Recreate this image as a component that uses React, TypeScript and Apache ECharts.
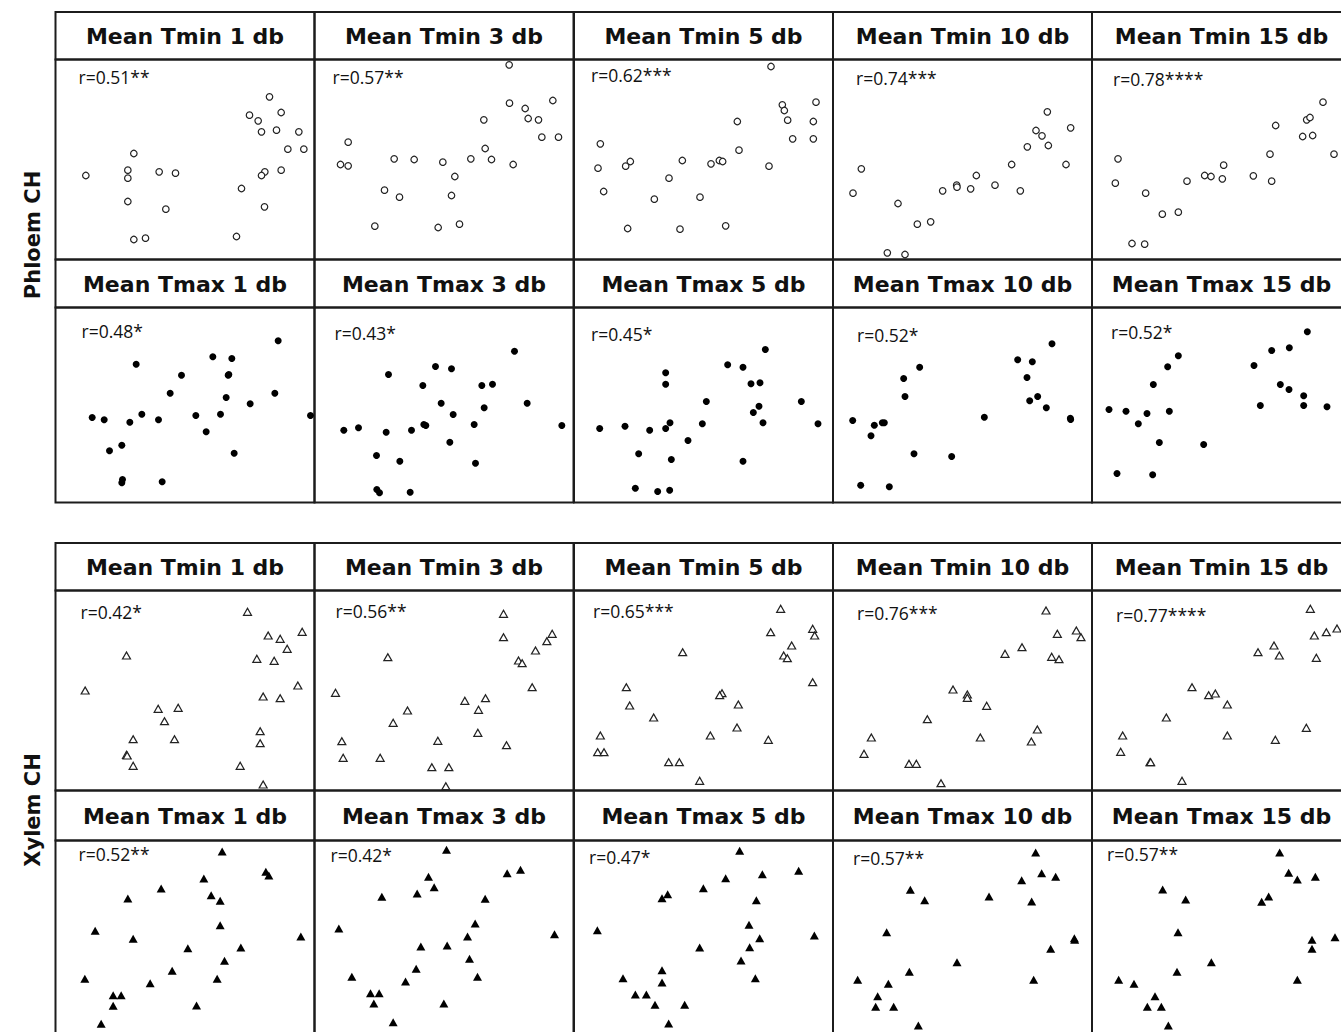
import React, { useEffect, useRef } from "react";
import * as echarts from "echarts";

// ---------- DATA (arbitrary units; x 0..777, y 0..~600) ----------
const tminTitles = ["Mean Tmin 1 db", "Mean Tmin 3 db", "Mean Tmin 5 db", "Mean Tmin 10 db", "Mean Tmin 15 db"];
const tmaxTitles = ["Mean Tmax 1 db", "Mean Tmax 3 db", "Mean Tmax 5 db", "Mean Tmax 10 db", "Mean Tmax 15 db"];
const groupLabels = ["Phloem CH", "Xylem CH"];

const phloemTminR = ["r=0.51**", "r=0.57**", "r=0.62***", "r=0.74***", "r=0.78****"];
const phloemTmaxR = ["r=0.48*", "r=0.43*", "r=0.45*", "r=0.52*", "r=0.52*"];
const xylemTminR = ["r=0.42*", "r=0.56**", "r=0.65***", "r=0.76***", "r=0.77****"];
const xylemTmaxR = ["r=0.52**", "r=0.42*", "r=0.47*", "r=0.57**", "r=0.57**"];

const phloemTmin1 = [[91,252],[235,318],[217,268],[217,244],[217,174],[235,60],[270,64],[311,263],[360,259],[331,151],[642,488],[582,433],[608,416],[677,441],[618,383],[663,388],[730,383],[697,331],[745,331],[628,263],[618,252],[677,268],[558,213],[627,158],[543,69]];
const phloemTmin3 = [[584,584],[585,469],[632,453],[715,477],[641,423],[672,419],[508,419],[682,367],[732,367],[101,352],[78,285],[101,281],[239,302],[299,300],[385,292],[469,302],[512,333],[531,300],[596,285],[421,249],[210,208],[255,187],[411,192],[181,100],[371,96],[435,106]];
const phloemTmin5 = [[591,579],[625,464],[631,447],[726,472],[641,418],[718,414],[490,414],[656,362],[718,362],[79,347],[72,274],[155,280],[169,294],[89,204],[285,244],[325,297],[241,181],[411,287],[436,297],[446,294],[495,328],[585,280],[378,187],[161,93],[318,91],[455,101]];
const phloemTmin10 = [[643,443],[713,395],[609,387],[627,371],[646,342],[583,338],[536,285],[699,285],[562,206],[486,223],[430,252],[413,212],[371,223],[372,217],[329,206],[85,272],[60,199],[195,168],[253,106],[293,113],[163,20],[216,15]];
const phloemTmin15 = [[693,472],[644,419],[654,426],[551,402],[632,369],[662,372],[726,316],[534,316],[78,302],[70,229],[161,199],[211,136],[259,142],[285,235],[338,252],[357,249],[391,242],[395,283],[484,251],[539,235],[120,48],[158,46]];

const phloemTmax1 = [[668,485],[472,437],[529,432],[242,415],[378,382],[520,384],[518,382],[344,328],[512,315],[658,328],[584,296],[110,255],[146,248],[223,241],[259,265],[309,248],[421,261],[495,265],[765,261],[452,212],[162,155],[199,172],[536,148],[201,69],[199,59],[320,62]];
const phloemTmax3 = [[600,454],[363,408],[411,401],[222,384],[325,351],[502,351],[534,355],[380,298],[638,298],[509,284],[416,264],[88,217],[132,224],[215,211],[291,217],[328,234],[334,231],[479,234],[742,231],[406,181],[186,141],[256,124],[483,118],[187,39],[195,29],[287,31]];
const phloemTmax5 = [[574,459],[461,413],[507,406],[275,389],[275,355],[531,356],[558,359],[397,303],[682,303],[555,289],[538,270],[567,239],[288,239],[275,222],[385,236],[77,222],[153,229],[227,217],[732,236],[342,186],[194,146],[292,129],[507,124],[184,43],[251,33],[287,37]];
const phloemTmax10 = [[657,476],[554,428],[598,422],[260,406],[212,372],[582,375],[216,318],[614,318],[590,305],[640,284],[454,256],[712,253],[713,249],[59,246],[124,232],[148,239],[154,239],[114,200],[243,146],[356,138],[83,52],[169,47]];
const phloemTmax15 = [[646,512],[539,456],[592,464],[486,411],[259,440],[227,407],[184,354],[565,354],[591,339],[635,320],[635,291],[705,287],[505,291],[51,279],[102,274],[165,267],[232,274],[139,236],[202,180],[335,174],[75,87],[182,83]];

const xylemTmin1 = [[576,536],[213,405],[638,465],[674,455],[740,476],[695,425],[604,395],[656,389],[89,300],[727,315],[623,282],[674,277],[308,245],[368,248],[327,208],[233,154],[357,154],[614,178],[614,142],[213,107],[215,105],[233,74],[554,74],[623,18]];
const xylemTmin3 = [[567,530],[567,460],[713,470],[697,448],[663,420],[612,390],[623,382],[220,400],[653,310],[63,293],[451,269],[513,277],[492,242],[279,240],[236,203],[490,173],[576,136],[82,148],[370,149],[86,98],[197,98],[352,70],[403,70],[394,13]];
const xylemTmin5 = [[620,545],[590,475],[716,485],[722,465],[653,435],[629,405],[640,397],[326,415],[716,325],[157,310],[167,255],[444,292],[437,286],[493,258],[239,219],[489,189],[409,165],[583,152],[79,165],[71,115],[90,115],[284,85],[316,85],[377,29]];
const xylemTmin10 = [[639,540],[673,470],[730,480],[744,460],[656,401],[678,394],[516,410],[567,430],[360,303],[403,288],[403,278],[461,254],[283,214],[442,159],[613,183],[595,147],[115,159],[93,110],[228,80],[250,80],[324,22]];
const xylemTmin15 = [[655,545],[667,465],[703,475],[735,486],[673,398],[546,435],[498,415],[562,405],[300,310],[350,286],[370,291],[406,258],[223,219],[406,165],[643,188],[550,152],[92,165],[86,116],[174,85],[176,85],[270,29]];

const xylemTmax1 = [[500,567],[631,506],[640,495],[445,486],[317,456],[217,426],[467,436],[494,419],[494,346],[119,329],[233,305],[736,312],[397,277],[556,279],[507,239],[350,209],[88,185],[284,172],[485,185],[173,136],[197,136],[173,104],[423,105],[137,50]];
const xylemTmax3 = [[396,572],[578,502],[618,512],[342,491],[359,460],[308,441],[202,431],[512,425],[482,351],[459,312],[73,336],[720,319],[319,282],[398,285],[465,245],[305,215],[112,191],[489,191],[273,177],[168,142],[194,142],[178,111],[388,111],[236,55]];
const xylemTmax5 = [[497,569],[565,499],[674,509],[455,487],[388,457],[264,427],[281,439],[547,421],[70,331],[525,347],[557,307],[527,280],[721,315],[377,279],[501,240],[147,187],[264,211],[264,174],[544,187],[184,138],[217,138],[243,107],[332,107],[284,51]];
const xylemTmax10 = [[608,564],[626,502],[668,491],[566,481],[468,432],[596,417],[232,452],[275,421],[161,325],[724,307],[725,302],[653,275],[372,235],[229,206],[602,182],[74,182],[166,170],[134,133],[128,101],[182,101],[256,45]];
const xylemTmax15 = [[563,564],[590,503],[616,483],[670,491],[530,432],[509,416],[212,453],[281,423],[258,325],[660,302],[660,275],[729,310],[358,235],[255,206],[616,182],[80,182],[126,170],[189,133],[166,101],[208,101],[229,45]];

// ---------- LAYOUT ----------
const COL_LEFT = [55.5, 314.5, 574, 833, 1092];
const COL_W = 259;
const LINE = "#1c1c1c";

const rows = [
  { titleTop: 12, plotTop: 59.5, plotH: 200, yMax: 600, titles: tminTitles, r: phloemTminR,
    data: [phloemTmin1, phloemTmin3, phloemTmin5, phloemTmin10, phloemTmin15],
    symbol: "circle", size: 6.5, filled: false,
    lx: [23, 18, 17, 23, 21], ly: [17.5, 17, 15, 18, 19] },
  { titleTop: 259.5, plotTop: 307.5, plotH: 195, yMax: 585, titles: tmaxTitles, r: phloemTmaxR,
    data: [phloemTmax1, phloemTmax3, phloemTmax5, phloemTmax10, phloemTmax15],
    symbol: "circle", size: 7, filled: true,
    lx: [26, 20, 17, 24, 19], ly: [23, 25, 26.5, 27, 24] },
  { titleTop: 543, plotTop: 590.5, plotH: 200, yMax: 600, titles: tminTitles, r: xylemTminR,
    data: [xylemTmin1, xylemTmin3, xylemTmin5, xylemTmin10, xylemTmin15],
    symbol: "triangle", size: [8, 7], filled: false,
    lx: [25, 21, 19, 24, 24], ly: [21, 20.5, 20.5, 22, 24.5] },
  { titleTop: 790.5, plotTop: 840.5, plotH: 200, yMax: 600, titles: tmaxTitles, r: xylemTmaxR,
    data: [xylemTmax1, xylemTmax3, xylemTmax5, xylemTmax10, xylemTmax15],
    symbol: "triangle", size: [9, 8], filled: true,
    lx: [23, 16, 15, 20, 15], ly: [13.5, 14.6, 16.6, 17.3, 13.3] },
];

export default function App() {
  const ref = useRef<HTMLDivElement>(null);
  useEffect(() => {
    if (!ref.current) return;
    const chart = echarts.init(ref.current, null, { renderer: "svg" });
    const grid: any[] = [];
    const xAxis: any[] = [];
    const yAxis: any[] = [];
    const series: any[] = [];
    const graphic: any[] = [];
    rows.forEach((row) => {
      row.data.forEach((pts, ci) => {
        const idx = grid.length;
        grid.push({
          left: COL_LEFT[ci], top: row.plotTop, width: COL_W, height: row.plotH,
          show: true, borderColor: LINE, borderWidth: 2, backgroundColor: "transparent",
        });
        xAxis.push({ gridIndex: idx, type: "value", min: 0, max: 777, show: false });
        yAxis.push({ gridIndex: idx, type: "value", min: 0, max: row.yMax, show: false });
        series.push({
          type: "scatter", xAxisIndex: idx, yAxisIndex: idx, data: pts, silent: true,
          symbol: row.symbol, symbolSize: row.size, clip: false,
          itemStyle: row.filled
            ? { color: "#000", borderWidth: 0, opacity: 1 }
            : { color: "#fff", borderColor: "#222", borderWidth: 1.2, opacity: 1 },
        });
        graphic.push({
          type: "rect", silent: true,
          shape: { x: COL_LEFT[ci], y: row.titleTop, width: COL_W, height: row.plotTop - row.titleTop },
          style: { fill: "none", stroke: LINE, lineWidth: 2 },
        });
        graphic.push({
          type: "text", silent: true,
          x: COL_LEFT[ci] + COL_W / 2, y: (row.titleTop + row.plotTop) / 2 + 1,
          style: {
            text: row.titles[ci], font: 'bold 22px "DejaVu Sans"', fill: "#111",
            textAlign: "center", textVerticalAlign: "middle", align: "center", verticalAlign: "middle",
          },
        });
        graphic.push({
          type: "text", silent: true,
          x: COL_LEFT[ci] + row.lx[ci], y: row.plotTop + row.ly[ci],
          style: {
            text: row.r[ci], font: '17.5px "Open Sans"', fill: "#111",
            textAlign: "left", textVerticalAlign: "middle", align: "left", verticalAlign: "middle",
          },
        });
      });
    });
    const sideY = [235, 810];
    groupLabels.forEach((g, i) => {
      graphic.push({
        type: "text", silent: true, x: 33, y: sideY[i], rotation: Math.PI / 2,
        style: {
          text: g, font: 'bold 21px "DejaVu Sans"', fill: "#111",
          textAlign: "center", textVerticalAlign: "middle", align: "center", verticalAlign: "middle",
        },
      });
    });
    chart.setOption({
      animation: false,
      backgroundColor: "#fff",
      grid, xAxis, yAxis, series, graphic,
    });
    return () => chart.dispose();
  }, []);
  return (
    <div style={{ position: "absolute", left: 0, top: 0, width: 1341, height: 1032, overflow: "hidden", background: "#fff" }}>
      <div ref={ref} style={{ width: 1352, height: 1046 }} />
    </div>
  );
}
